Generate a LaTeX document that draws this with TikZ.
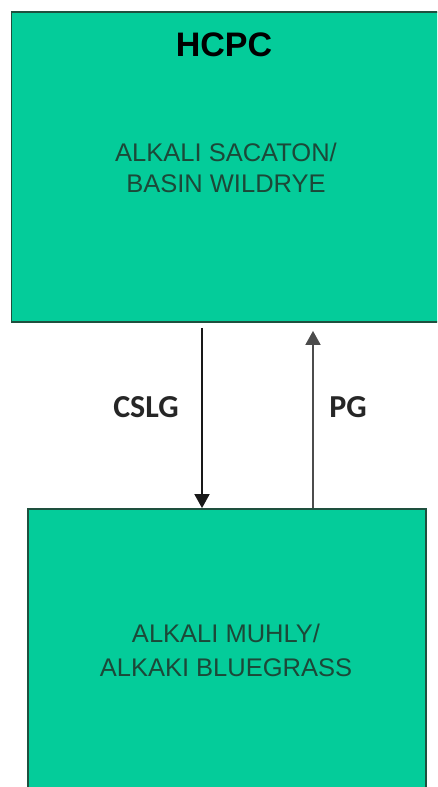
\documentclass[tikz,border=0pt]{standalone}
\usepackage{fontspec}
\setmainfont{Liberation Sans}
\newfontfamily\calibri{Carlito}
\usepackage{tikz}
\usetikzlibrary{arrows.meta, calc, positioning}
\usepackage{xcolor}
\definecolor{boxgreen}{RGB}{4,204,154}
\definecolor{boxedge}{RGB}{30,80,62}
\definecolor{boxtext}{RGB}{28,72,56}

\begin{document}
\begin{tikzpicture}[x=1pt, y=-1pt,
    box/.style={draw=boxedge, line width=1.8pt, fill=boxgreen, rectangle, inner sep=0pt},
    species/.style={text=boxtext, align=center, inner sep=0pt},
    flow/.style={line width=1.8pt, -{Triangle[width=15pt,length=14pt]}},
    pathway/.style={text=black!85, inner sep=0pt, font=\calibri\bfseries\fontsize{32}{32}\selectfont}]
    \clip (0,0) rectangle (437,787);
    \fill[white] (0,0) rectangle (437,787);

    \node[box, minimum width=429pt, minimum height=310pt] (hcpc) at (226,167) {};
    \node[box, minimum width=398pt, minimum height=300pt] (mixed) at (227,659) {};

    \node[inner sep=0pt, font=\bfseries\fontsize{34}{34}\selectfont] (hcpclabel) at (224,45) {HCPC};
    \node[species, font=\fontsize{25.5}{31}\selectfont] (hcpctext) at (226,167.5) {ALKALI SACATON/\\BASIN WILDRYE};
    \node[species, font=\fontsize{25.5}{34}\selectfont] (mixedtext) at (226,650) {ALKALI MUHLY/\\ALKAKI BLUEGRASS};

    \draw[flow, black!90] ([xshift=-24pt,yshift=-5pt]hcpc.south) -- ([xshift=-25pt]mixed.north);
    \draw[flow, black!70] ([xshift=86pt]mixed.north) -- ([xshift=87pt,yshift=-8pt]hcpc.south);

    \node[pathway] (cslg) at (146,407) {CSLG};
    \node[pathway] (pg) at (348,407) {PG};
\end{tikzpicture}
\end{document}
